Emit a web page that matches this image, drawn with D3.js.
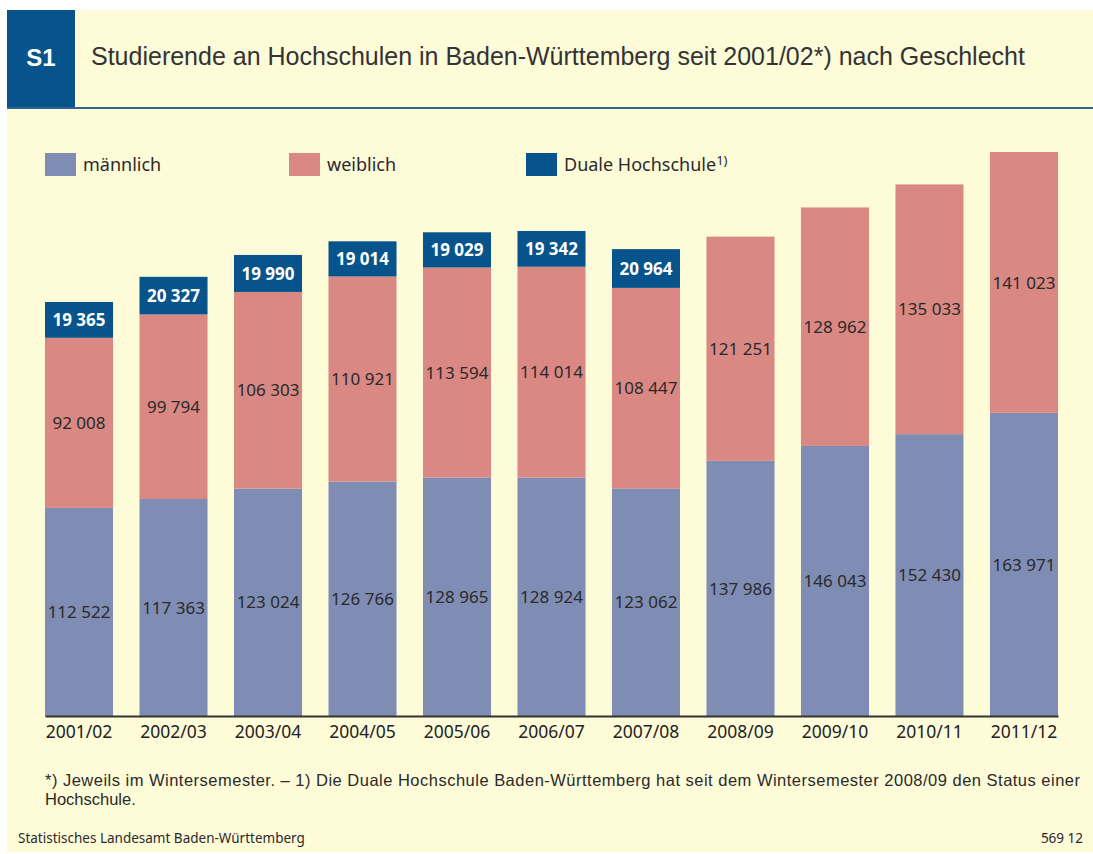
<!DOCTYPE html>
<html>
<head>
<meta charset="utf-8">
<script src="https://cdn.jsdelivr.net/npm/d3@7"></script>
<style>
  body { margin: 0; background: #fff; }
  svg { display: block; }
</style>
</head>
<body>
<div id="chart"></div>
<script>
// Studierende an Hochschulen in Baden-Württemberg
const years = ["2001/02", "2002/03", "2003/04", "2004/05", "2005/06", "2006/07",
               "2007/08", "2008/09", "2009/10", "2010/11", "2011/12"];
const maennlich = [112522, 117363, 123024, 126766, 128965, 128924, 123062, 137986, 146043, 152430, 163971];
const weiblich = [92008, 99794, 106303, 110921, 113594, 114014, 108447, 121251, 128962, 135033, 141023];
const duale = [19365, 20327, 19990, 19014, 19029, 19342, 20964, 0, 0, 0, 0];
const seriesNames = ["männlich", "weiblich", "Duale Hochschule"];

const width = 1093, height = 854;
const cream = "#fefbd9", blue = "#06548b", cMale = "#7f8db5", cFemale = "#d98883";
const font = "'Noto Sans', 'Open Sans', sans-serif";
const sans = "'Liberation Sans', Arial, sans-serif";

const svg = d3.select("#chart").append("svg")
    .attr("width", width).attr("height", height);

// panel + header
svg.append("rect").attr("x", 7).attr("y", 10).attr("width", width - 7).attr("height", 842).attr("fill", cream);
svg.append("rect").attr("x", 7).attr("y", 10).attr("width", 68).attr("height", 97).attr("fill", blue);
svg.append("rect").attr("x", 7).attr("y", 107).attr("width", width - 7).attr("height", 2).attr("fill", "#2f6690");
svg.append("text").attr("x", 41).attr("y", 66).attr("text-anchor", "middle")
    .attr("font-family", sans).attr("font-weight", "bold")
    .attr("font-size", 24).attr("fill", "#fff").text("S1");
svg.append("text").attr("x", 91).attr("y", 65)
    .attr("font-family", sans)
    .attr("font-size", 25).attr("fill", "#333")
    .text("Studierende an Hochschulen in Baden-Württemberg seit 2001/02*) nach Geschlecht");

// data table
const data = years.map((y, i) => ({ year: y, m: maennlich[i], w: weiblich[i], d: duale[i] }));
const stack = d3.stack().keys(["m", "w", "d"])(data);

const x = d3.scaleBand().domain(years).range([45, 1058]).paddingInner(0.28).paddingOuter(0);
const y = d3.scaleLinear().domain([0, 305000]).range([716, 152]);
const colors = { m: cMale, w: cFemale, d: blue };

const fmt = d3.formatLocale({ decimal: ",", thousands: " ", grouping: [3], currency: ["", ""] }).format(",d");

const g = svg.append("g");
stack.forEach(layer => {
  const key = layer.key;
  const lg = g.append("g");
  lg.selectAll("rect").data(layer.filter(d => d[1] > d[0])).join("rect")
    .attr("x", d => x(d.data.year))
    .attr("width", x.bandwidth())
    .attr("y", d => y(d[1]))
    .attr("height", d => y(d[0]) - y(d[1]))
    .attr("fill", colors[key]);
  lg.selectAll("text").data(layer.filter(d => d[1] > d[0])).join("text")
    .attr("x", d => x(d.data.year) + x.bandwidth() / 2)
    .attr("y", d => (y(d[0]) + y(d[1])) / 2)
    .attr("dy", "0.36em")
    .attr("text-anchor", "middle")
    .attr("font-family", font)
    .attr("font-size", 17)
    .attr("font-weight", key === "d" ? "bold" : "normal")
    .attr("fill", key === "d" ? "#fff" : "#2a2a2a")
    .text(d => fmt(d[1] - d[0]));
});

// x axis
const xAxis = svg.append("g").attr("transform", "translate(0,716)")
    .call(d3.axisBottom(x).tickSize(0).tickPadding(10));
xAxis.select(".domain").attr("stroke", "#333").attr("stroke-width", 2.2);
xAxis.selectAll("text").attr("font-family", font).attr("font-size", 17.5).attr("fill", "#222");

// legend
const legendX = [45, 289, 526];
const legend = svg.append("g");
seriesNames.forEach((name, i) => {
  legend.append("rect").attr("x", legendX[i]).attr("y", 153).attr("width", 31).attr("height", 23)
    .attr("fill", [cMale, cFemale, blue][i]);
  const t = legend.append("text").attr("x", legendX[i] + 38).attr("y", 171)
    .attr("font-family", font).attr("font-size", 18).attr("fill", "#2a2a2a").text(name);
  if (i === 2) t.append("tspan").attr("dy", -6).attr("font-size", 13).text("1)");
});

// footnotes
svg.append("text").attr("x", 45).attr("y", 786)
    .attr("font-family", sans).attr("font-size", 16.5).attr("fill", "#2a2a2a")
    .attr("textLength", 1035).attr("lengthAdjust", "spacing")
    .text("*) Jeweils im Wintersemester. – 1) Die Duale Hochschule Baden-Württemberg hat seit dem Wintersemester 2008/09 den Status einer");
svg.append("text").attr("x", 45).attr("y", 805)
    .attr("font-family", sans).attr("font-size", 16.5).attr("fill", "#2a2a2a")
    .text("Hochschule.");
svg.append("text").attr("x", 18).attr("y", 843)
    .attr("font-family", font).attr("font-size", 13.5).attr("fill", "#2a2a2a")
    .text("Statistisches Landesamt Baden-Württemberg");
svg.append("text").attr("x", 1083).attr("y", 843).attr("text-anchor", "end")
    .attr("font-family", font).attr("font-size", 13.5).attr("fill", "#2a2a2a")
    .text("569 12");
</script>
</body>
</html>
